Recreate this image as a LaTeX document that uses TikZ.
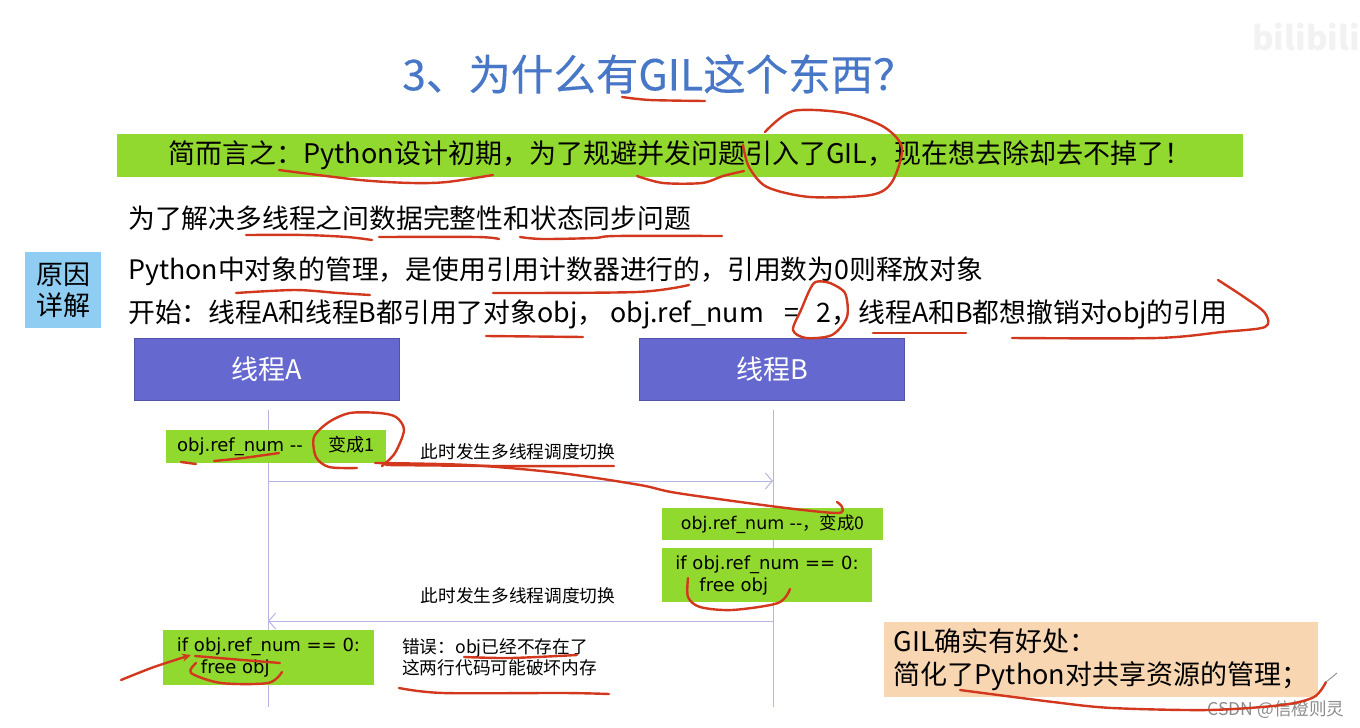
\documentclass[tikz,border=0pt]{standalone}
\usepackage{fontspec}
\setmainfont{Noto Sans CJK SC}
\newfontfamily\codefont{DejaVu Sans}
\newfontfamily\cjk{Noto Sans CJK SC}
\newfontfamily\titlefont[FakeBold=0.3]{Noto Sans CJK SC}
\usetikzlibrary{positioning, arrows.meta, calc}
\newcommand{\fs}[2]{\fontsize{#1}{#2}\selectfont}
\definecolor{titleblue}{HTML}{4777C6}
\definecolor{bargreen}{HTML}{92D92F}
\definecolor{threadblue}{HTML}{6569CF}
\definecolor{lifeline}{HTML}{B5B5E2}
\definecolor{reasonblue}{HTML}{8FCDF3}
\definecolor{noteorange}{HTML}{F8D6B2}
\definecolor{inkred}{HTML}{D2381E}

\begin{document}
\begin{tikzpicture}[
  x=1pt, y=-1pt,
  >={Straight Barb[length=7pt, width=16pt]},
  line/.style   = {anchor=west, inner sep=0pt, font=\fs{26.8}{32}},
  thread/.style = {fill=threadblue, draw=threadblue!80!black, text=white, minimum width=265pt, minimum height=62pt, inner sep=0pt, font=\fs{27}{30}},
  code/.style   = {fill=bargreen, inner sep=0pt, align=left, font=\codefont\fs{18}{22}},
  msg/.style    = {->, lifeline, line width=1pt},
  life/.style   = {lifeline, line width=1pt},
  swlabel/.style= {inner sep=0pt, font=\fs{17.7}{22}},
  ink/.style    = {inkred, line width=2.4pt, line cap=round, line join=round},
]
  \useasboundingbox (0,0) rectangle (1360,728);
  % Watermarks.
  \node[text=black!5, font=\bfseries\fs{33}{33}, inner sep=0pt] (bili) at (1306,37) {bilibili};
  \node[text=black!45, font=\fs{17.6}{20}, inner sep=0pt] (csdn) at (1276,710) {CSDN @信橙则灵};

  % Heading, summary bar, text lines.
  \node[text=titleblue, font=\titlefont\fs{42.5}{46}, inner sep=0pt] (title) at (659,74) {3、为什么有GIL这个东西？};
  \node[fill=bargreen, minimum width=1126pt, minimum height=43pt, inner sep=0pt, font=\fs{27}{32}] (bar) at (680,155.5)
    {\raisebox{-2pt}{简而言之：Python设计初期，为了规避并发问题引入了GIL，现在想去除却去不掉了！}\hspace{18pt}};
  \node[line] (l1) at (128,218) {为了解决多线程之间数据完整性和状态同步问题};
  \node[line] (l2) at (128,271) {Python中对象的管理，是使用引用计数器进行的，引用数为0则释放对象};
  \node[line, below=43pt of l2.west, anchor=west] (l3) {开始：线程A和线程B都引用了对象obj，\hspace{6pt}obj.ref\_num\hspace{21pt}=\hspace{17pt}2，线程A和B都想撤销对obj的引用};
  \node[fill=reasonblue, minimum size=76pt, inner sep=0pt, align=center, font=\fs{27}{31}] (why) at (63,290) {原因\\详解};

  % Two threads and their life lines.
  \node[thread] (ta) at (266.5,369) {线程A};
  \node[thread, right=240pt of ta] (tb) {线程B};
  \coordinate (la) at (268,410);
  \coordinate (lb) at (773,410);
  \coordinate (laend) at (268,707);
  \coordinate (lbend) at (773,707);
  \draw[life] (la) -- (laend);
  \draw[life] (lb) -- (lbend);

  % Steps of the two threads.
  \node[code, minimum width=220pt, minimum height=33pt] (s1) at (276,446) {obj.ref\_num -{}-\hspace{26pt}{\cjk 变成1}};
  \node[code, minimum width=221pt, minimum height=32pt, font=\codefont\fs{17.4}{22}] (s2) at (772.5,524) {obj.ref\_num -{}-{\cjk ，变成0}};
  \node[code, minimum width=210pt, minimum height=54pt, below=8pt of s2.south west, anchor=north west] (s3) {if obj.ref\_num == 0:\\\hspace{24pt}free obj};
  \node[code, minimum width=211pt, minimum height=55pt] (s4) at (268.5,657.5) {if obj.ref\_num == 0:\\\hspace{24pt}free obj};

  % Switches between the threads.
  \coordinate (m1a) at (268,481);
  \coordinate (m1b) at (773,481);
  \coordinate (m2a) at (268,621);
  \coordinate (m2b) at (773,621);
  \draw[msg] (m1a) -- (m1b);
  \draw[msg] (m2b) -- (m2a);
  \node[swlabel] (sw1) at (518,452) {此时发生多线程调度切换};
  \node[swlabel] (sw2) at (518,596) {此时发生多线程调度切换};
  \node[anchor=west, inner sep=0pt, align=left, font=\fs{17.7}{21}] (err) at (402,657) {错误：obj已经不存在了\\这两行代码可能破坏内存};

  % Summary note.
  \node[fill=noteorange, minimum width=434pt, minimum height=75pt, inner sep=0pt, align=left, font=\fs{27}{33}] (note) at (1101,659.5)
    {GIL确实有好处：\\简化了Python对共享资源的管理；};

  % Hand-drawn marks.
  \draw[ink] plot[smooth] coordinates {(622,97) (650,100) (705,101)};
  \draw[ink] plot[smooth] coordinates {(279,170) (360,180) (412,183) (447,182) (493,175)};
  \draw[ink] plot[smooth] coordinates {(637,176) (663,183) (702,183) (723,176) (744,171)};
  \draw[ink] plot[smooth] coordinates {(765,132) (793,111) (845,113) (884,127) (902,148) (892,182) (871,195) (810,197) (767,187) (749,167) (743,145)};
  \draw[ink] plot[smooth] coordinates {(246,235) (304,235) (347,237) (372,240)};
  \draw[ink] plot[smooth] coordinates {(379,237) (477,237) (499,239)};
  \draw[ink] plot[smooth] coordinates {(520,237) (542,239) (594,238) (616,236) (722,236)};
  \draw[ink] plot[smooth] coordinates {(236,293) (295,290) (338,293) (370,295)};
  \draw[ink] plot[smooth] coordinates {(493,293) (637,292) (689,285)};
  \draw[ink] plot[smooth] coordinates {(486,336) (583,337)};
  \draw[ink] plot[smooth] coordinates {(830,283) (814,283) (801,310) (793,330) (806,338) (832,335) (847,317) (845,293) (830,283)};
  \draw[ink] plot[smooth] coordinates {(873,333) (966,333)};
  \draw[ink] plot[smooth] coordinates {(1012,338) (1157,338) (1222,332) (1265,327) (1265,313) (1244,297) (1218,280)};
  \draw[ink] plot[smooth] coordinates {(181,462) (196,464)};
  \draw[ink] plot[smooth] coordinates {(214,461) (243,458) (279,453)};
  \draw[ink] plot[smooth] coordinates {(382,466) (395,453) (404,430) (396,417) (379,413) (350,413) (329,422) (314,437) (316,457) (329,467) (357,468)};
  \draw[ink] plot[smooth] coordinates {(386,465) (500,466) (614,466)};
  \draw[ink] plot[smooth] coordinates {(375,463) (468,465) (560,473) (640,485) (677,493) (778,507) (837,513) (842,507) (837,502)};
  \draw[ink] plot[smooth] coordinates {(688,578) (688,597) (700,607) (732,610) (778,603) (790,589)};
  \draw[ink, -{Stealth[length=9pt, width=8pt]}] plot[smooth] coordinates {(121,680) (154,667) (191,655)};
  \draw[ink] plot[smooth] coordinates {(195,656) (243,660) (280,663)};
  \draw[ink] plot[smooth] coordinates {(196,663) (191,673) (221,683) (268,683) (282,672)};
  \draw[ink] plot[smooth] coordinates {(464,657) (511,658) (577,655)};
  \draw[ink] plot[smooth] coordinates {(399,688) (443,693) (564,693) (609,694)};
  \draw[ink] plot[smooth] coordinates {(960,690) (1053,702) (1112,708) (1209,710) (1282,705) (1314,697) (1326,682)};
  \draw[black!40, line width=1pt] (1326,682) -- (1337,673);
\end{tikzpicture}
\end{document}
